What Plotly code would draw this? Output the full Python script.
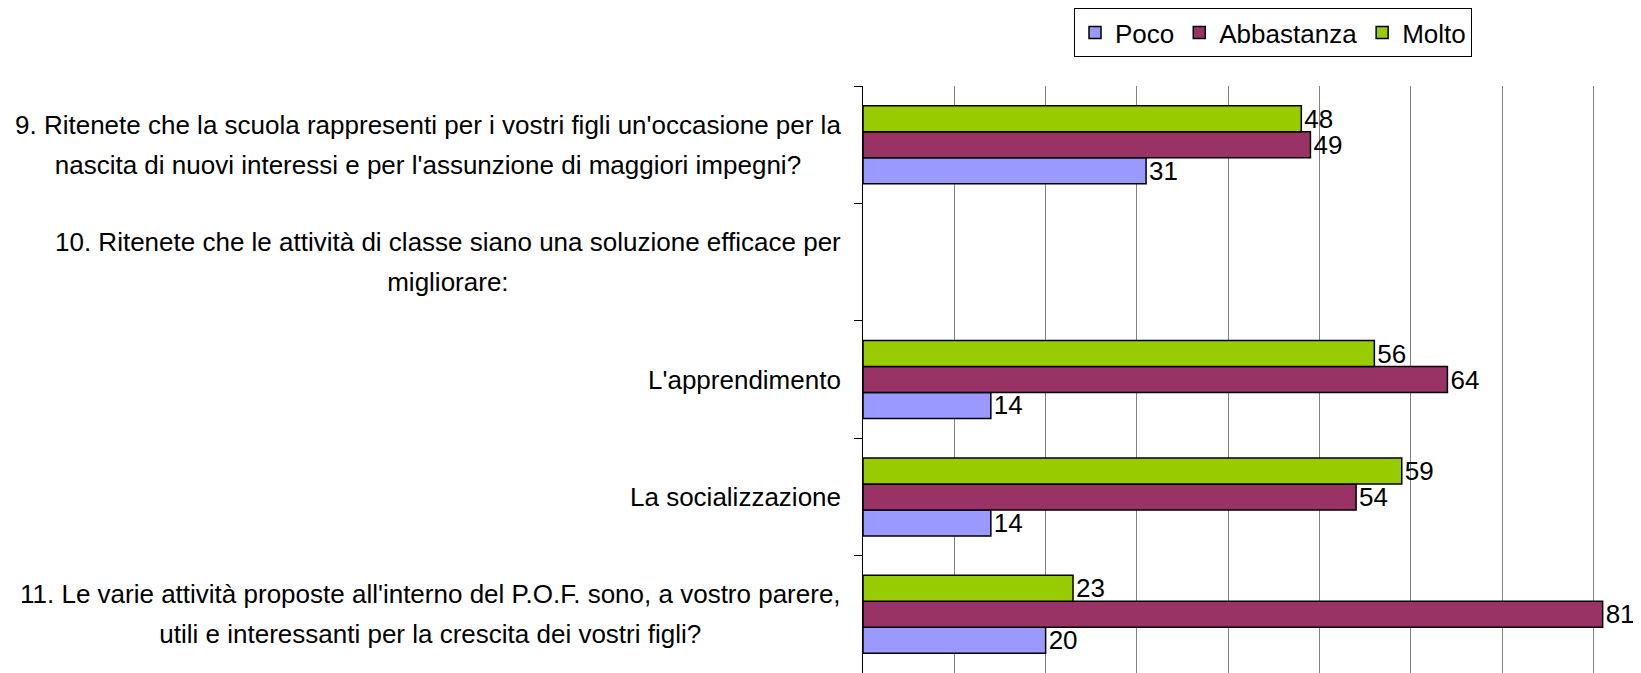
import plotly.graph_objects as go

# categories, listed bottom to top
categories = [
    "11. Le varie attività proposte all'interno del P.O.F. sono, a vostro parere,<br>utili e interessanti per la crescita dei vostri figli?",
    "La socializzazione",
    "L'apprendimento",
    "10. Ritenete che le attività di classe siano una soluzione efficace per<br>migliorare:",
    "9. Ritenete che la scuola rappresenti per i vostri figli un'occasione per la<br>nascita di nuovi interessi e per l'assunzione di maggiori impegni?",
]
poco = [20, 14, 14, None, 31]
abbastanza = [81, 54, 64, None, 49]
molto = [23, 59, 56, None, 48]

series = [("Poco", poco, "#9999FF"),
          ("Abbastanza", abbastanza, "#993366"),
          ("Molto", molto, "#99CC00")]

FONT = "Liberation Sans, Arial, sans-serif"

fig = go.Figure()
for name, vals, col in series:
    fig.add_trace(go.Bar(
        y=categories, x=vals, name=name, orientation="h",
        marker=dict(color=col, line=dict(color="black", width=1.5)),
        text=[("" if v is None else str(v)) for v in vals],
        textposition="outside", constraintext="none", cliponaxis=False,
        textfont=dict(family=FONT, size=26, color="black"),
    ))

# category labels: larger base font gives wider line spacing, glyphs kept at 26px
for c in categories:
    lines = c.split("<br>")
    txt = "<br>".join('<span style="font-size:26px">%s</span>' % l for l in lines)
    fig.add_annotation(
        x=0, xref="paper", y=c, yref="y",
        text=txt, showarrow=False, align="center",
        xanchor="right", yanchor="middle", xshift=-20,
        font=dict(family=FONT, size=31, color="black"),
    )

fig.update_xaxes(range=[0, 85.2], dtick=10, showgrid=True, gridcolor="#808080",
                 gridwidth=1, zeroline=False, showticklabels=False, ticks="")
fig.update_yaxes(showticklabels=False, ticks="outside", tickson="boundaries",
                 ticklen=8, tickcolor="black", showline=True, linecolor="black",
                 linewidth=1, showgrid=False)

# page body has an 8px margin, so the figure is shifted up/left by that much
fig.update_layout(
    barmode="group", bargap=0.336, bargroupgap=0,
    width=1633, height=665,
    margin=dict(l=855, r=0, t=78, b=0, pad=0),
    plot_bgcolor="white", paper_bgcolor="white",
    font=dict(family=FONT, size=26, color="black"),
    legend=dict(orientation="h", x=0.527, xanchor="center", y=1.133, yanchor="top",
                bordercolor="black", borderwidth=1, font=dict(size=26),
                traceorder="normal", itemwidth=30),
    showlegend=True,
)

fig.write_html("out.html")
